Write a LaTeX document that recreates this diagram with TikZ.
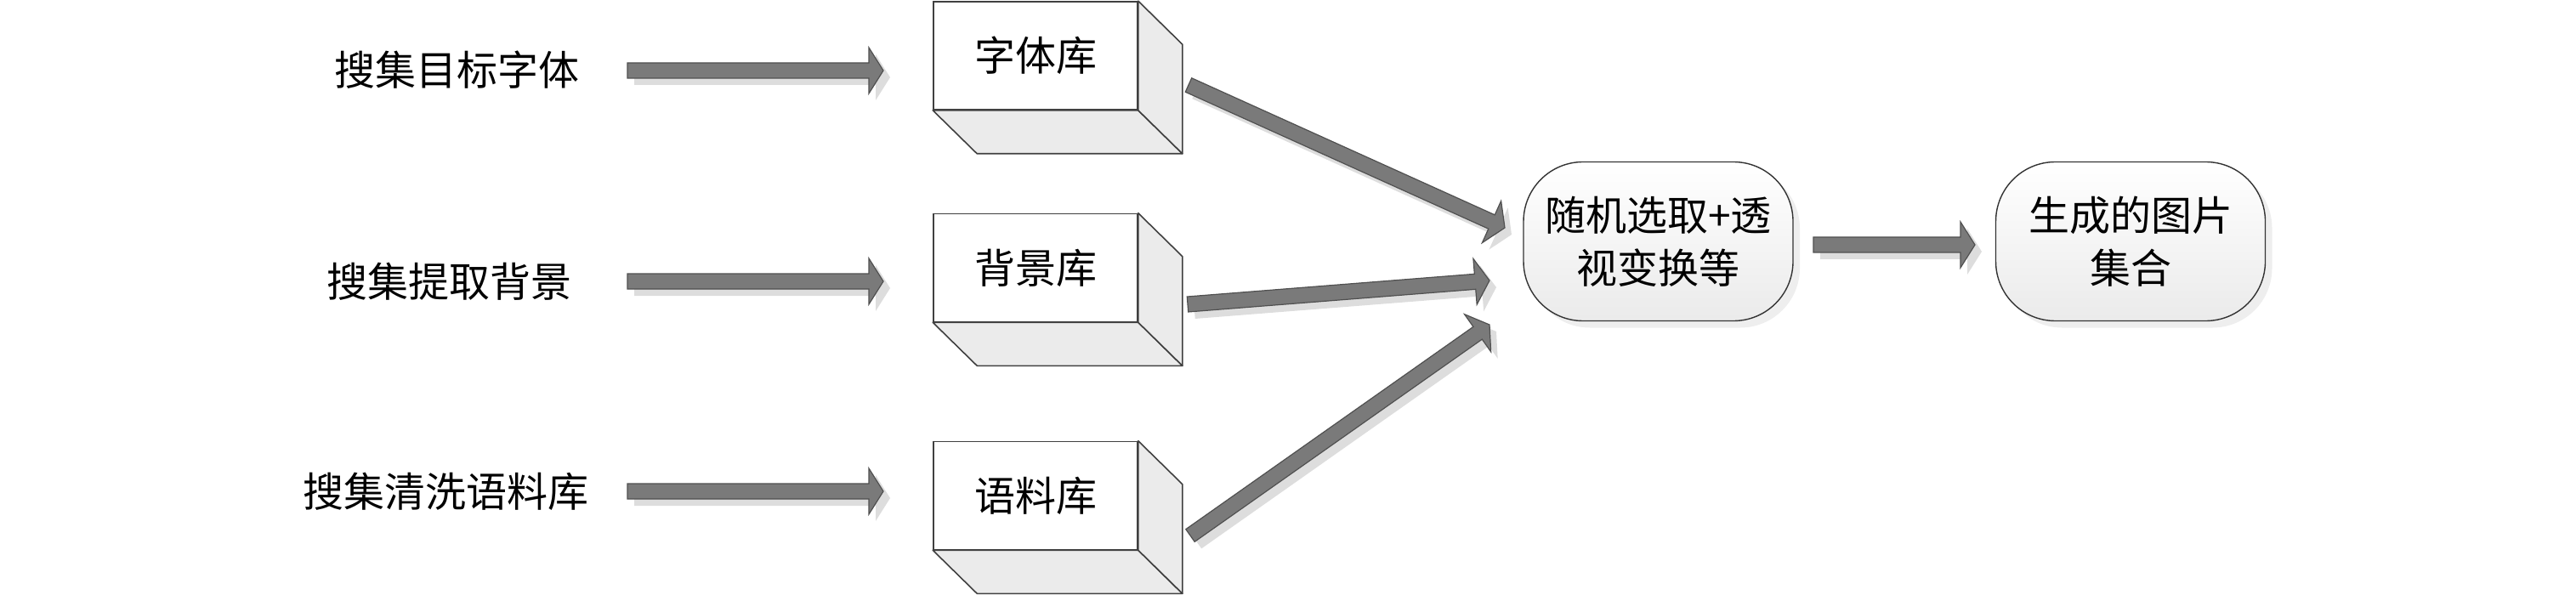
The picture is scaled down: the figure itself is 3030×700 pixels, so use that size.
\documentclass[tikz,border=0pt]{standalone}
\usepackage{fontspec}
\setmainfont{Noto Sans CJK SC}
\usetikzlibrary{calc,shadows}
\definecolor{arrowfill}{HTML}{7A7A7A}
\definecolor{arrowline}{HTML}{505050}
\definecolor{shadowgray}{HTML}{DDDDDD}
\definecolor{sidegray}{HTML}{EBEBEB}
\tikzset{
  lbl/.style={font=\fontsize{24}{31}\selectfont, inner sep=0pt, align=center},
  frontface/.style={lbl, draw=black!75, fill=white, line width=0.8pt,
    minimum width=120pt, minimum height=63.5pt},
  sideface/.style={draw=black!75, fill=sidegray, line width=0.8pt, line join=round},
  rbox/.style={lbl, draw=black!80, line width=0.7pt, rounded corners=35pt,
    top color=white, bottom color=black!8,
    minimum width=158.5pt, minimum height=93.5pt,
    drop shadow={shadow xshift=4pt, shadow yshift=-4pt, fill=shadowgray}},
  barrow/.style={fill=arrowfill, draw=arrowline, line width=0.6pt, line join=miter},
  bshadow/.style={fill=shadowgray, transform canvas={xshift=4pt, yshift=-4pt}}
}
\newcommand\blockarrow[2]{%
  \coordinate (#1h) at ($(#2)!8.5pt!(#1)$);
  \path[bshadow] ($(#1)!4.5pt!90:(#2)$) -- ($(#1h)!4.5pt!90:(#2)$) -- ($(#1h)!13.5pt!90:(#2)$)
    -- (#2) -- ($(#1h)!13.5pt!-90:(#2)$) -- ($(#1h)!4.5pt!-90:(#2)$) -- ($(#1)!4.5pt!-90:(#2)$) -- cycle;
  \path[barrow] ($(#1)!4.5pt!90:(#2)$) -- ($(#1h)!4.5pt!90:(#2)$) -- ($(#1h)!13.5pt!90:(#2)$)
    -- (#2) -- ($(#1h)!13.5pt!-90:(#2)$) -- ($(#1h)!4.5pt!-90:(#2)$) -- ($(#1)!4.5pt!-90:(#2)$) -- cycle;
}
\newcommand\cuboid[1]{%
  \path[sideface] (#1.south west) -- (#1.south east) -- ++(52,51) -- ($(#1.south west)+(52,51)$) -- cycle;
  \path[sideface] (#1.north east) -- ++(52,51) -- ($(#1.south east)+(52,51)$) -- (#1.south east) -- cycle;
}
\begin{document}
\begin{tikzpicture}[x=0.5pt, y=-0.5pt]
\useasboundingbox (0,0) rectangle (3030,700);

% left texts
\node[lbl] (t1) at (537,82) {搜集目标字体};
\node[lbl] (t2) at (528,331) {搜集提取背景};
\node[lbl] (t3) at (524,578) {搜集清洗语料库};

% cuboids
\node[frontface] (b1) at (1218,65.5) {字体库};
\node[frontface] (b2) at (1218,315) {背景库};
\node[frontface] (b3) at (1218,583) {语料库};
\cuboid{b1}
\cuboid{b2}
\cuboid{b3}

% rounded boxes
\node[rbox] (r1) at (1950.5,284) {随机选取+透\\视变换等};
\node[rbox] (r2) at (2506,284) {生成的图片\\集合};

% arrow end points
\coordinate (a1s) at (738,83);  \coordinate (a1e) at (1039,83);
\coordinate (a2s) at (738,331); \coordinate (a2e) at (1039,331);
\coordinate (a3s) at (738,578); \coordinate (a3e) at (1039,578);
\coordinate (d1s) at (1398,100); \coordinate (d1e) at (1770,268);
\coordinate (d2s) at (1397,358); \coordinate (d2e) at (1752,330);
\coordinate (d3s) at (1400,630); \coordinate (d3e) at (1752,382);
\coordinate (m1s) at (2133,288); \coordinate (m1e) at (2323,288);

\blockarrow{a1s}{a1e}
\blockarrow{a2s}{a2e}
\blockarrow{a3s}{a3e}
\blockarrow{d1s}{d1e}
\blockarrow{d2s}{d2e}
\blockarrow{d3s}{d3e}
\blockarrow{m1s}{m1e}
\end{tikzpicture}
\end{document}
